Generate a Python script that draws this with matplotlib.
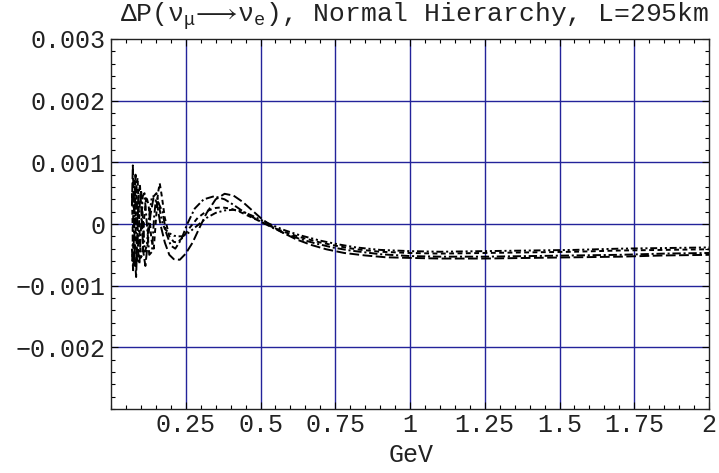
import matplotlib
matplotlib.use("Agg")
import matplotlib.pyplot as plt
from matplotlib.ticker import MultipleLocator, FixedLocator

# energies (GeV) and Delta P values (units of 1e-3)
e_a = [0.070, 0.073, 0.077, 0.080, 0.084, 0.088, 0.092, 0.097, 0.102, 0.108, 0.115, 0.123,
       0.132, 0.142, 0.153, 0.165, 0.18, 0.195, 0.21, 0.23, 0.25, 0.273, 0.297, 0.32, 0.35,
       0.38, 0.41, 0.44, 0.47, 0.50, 0.53, 0.57, 0.62, 0.67, 0.72, 0.78, 0.85, 0.92,
       1.0, 1.1, 1.25, 1.4, 1.55, 1.7, 1.85, 2.0]
p_a = [0.3, 0.95, 0.2, -0.55, -0.86, -0.2, 0.5, 0.62, 0.2, -0.45, -0.68, -0.3,
       0.15, 0.42, 0.35, 0.0, -0.3, -0.5, -0.57, -0.58, -0.48, -0.3, -0.05, 0.18, 0.4,
       0.49, 0.46, 0.36, 0.23, 0.10, -0.01, -0.13, -0.25, -0.34, -0.41, -0.47, -0.51, -0.54,
       -0.55, -0.56, -0.56, -0.55, -0.54, -0.53, -0.51, -0.50]

e_b = [0.070, 0.074, 0.078, 0.082, 0.086, 0.090, 0.095, 0.100, 0.106, 0.112, 0.120, 0.128,
       0.137, 0.144, 0.150, 0.158, 0.172, 0.185, 0.20, 0.215, 0.235, 0.255, 0.28, 0.31, 0.345,
       0.38, 0.41, 0.44, 0.47, 0.50, 0.54, 0.58, 0.63, 0.68, 0.74, 0.80, 0.90,
       1.0, 1.1, 1.25, 1.4, 1.55, 1.7, 1.85, 2.0]
p_b = [-0.4, -0.75, 0.1, 0.8, 0.5, -0.4, -0.65, -0.1, 0.45, 0.5, 0.0, -0.5,
       -0.45, 0.1, 0.4, 0.35, 0.2, -0.15, -0.35, -0.40, -0.25, 0.0, 0.25, 0.40, 0.45,
       0.40, 0.31, 0.21, 0.12, 0.04, -0.06, -0.15, -0.24, -0.31, -0.38, -0.43, -0.49,
       -0.52, -0.53, -0.53, -0.52, -0.51, -0.50, -0.48, -0.47]

e_c = [0.070, 0.073, 0.077, 0.081, 0.085, 0.089, 0.094, 0.099, 0.105, 0.111, 0.118, 0.126,
       0.135, 0.143, 0.150, 0.157, 0.163, 0.170, 0.180, 0.195, 0.21, 0.222, 0.24, 0.26, 0.29,
       0.32, 0.35, 0.37, 0.40, 0.43, 0.46, 0.50, 0.54, 0.58, 0.63, 0.70, 0.76, 0.82, 0.90,
       1.0, 1.1, 1.25, 1.4, 1.55, 1.7, 1.85, 2.0]
p_c = [0.5, -0.2, -0.7, -0.3, 0.6, 0.75, 0.1, -0.55, -0.5, 0.1, 0.45, 0.3,
       -0.25, -0.4, 0.05, 0.5, 0.66, 0.45, 0.1, -0.2, -0.29, -0.30, -0.22, -0.08, 0.1,
       0.21, 0.26, 0.27, 0.25, 0.2, 0.13, 0.04, -0.05, -0.13, -0.21, -0.3, -0.36, -0.41, -0.45,
       -0.47, -0.48, -0.47, -0.46, -0.45, -0.43, -0.42, -0.41]

e_d = [0.071, 0.075, 0.079, 0.083, 0.087, 0.091, 0.096, 0.101, 0.107, 0.113, 0.120, 0.128,
       0.137, 0.143, 0.152, 0.160, 0.170, 0.18, 0.195, 0.21, 0.225, 0.24, 0.26, 0.29, 0.32,
       0.35, 0.38, 0.41, 0.44, 0.47, 0.50, 0.54, 0.58, 0.63, 0.70, 0.76, 0.82, 0.90,
       1.0, 1.1, 1.25, 1.4, 1.55, 1.7, 1.85, 2.0]
p_d = [-0.6, 0.3, 0.7, 0.1, -0.6, -0.5, 0.3, 0.55, 0.05, -0.45, -0.35, 0.15,
       0.45, 0.45, 0.5, 0.3, 0.05, -0.08, -0.15, -0.19, -0.2, -0.2, -0.14, -0.02, 0.1,
       0.18, 0.22, 0.23, 0.2, 0.14, 0.07, -0.02, -0.1, -0.18, -0.27, -0.33, -0.38, -0.42,
       -0.44, -0.45, -0.44, -0.43, -0.42, -0.40, -0.39, -0.38]

x_ticks = [0.25, 0.5, 0.75, 1, 1.25, 1.5, 1.75, 2]
x_labels = ["0.25", "0.5", "0.75", "1", "1.25", "1.5", "1.75", "2"]
y_ticks = [-0.002, -0.001, 0, 0.001, 0.002, 0.003]
y_labels = ["\u22120.002", "\u22120.001", "0", "0.001", "0.002", "0.003"]

plt.rcParams['font.family'] = ['Liberation Mono', 'DejaVu Sans Mono', 'DejaVu Sans']
plt.rcParams['mathtext.fontset'] = 'custom'
plt.rcParams['mathtext.rm'] = 'Liberation Mono'
plt.rcParams['mathtext.it'] = 'Liberation Mono'
plt.rcParams['lines.scale_dashes'] = False

fig = plt.figure(figsize=(7.19, 4.73), dpi=100)
ax = fig.add_axes([111 / 719, 1 - 409 / 473, 598 / 719, 370 / 473])

grid_col = '#23239a'
for gx in x_ticks[:-1]:
    ax.axvline(gx, color=grid_col, lw=1.0, zorder=1)
for gy in [-0.002, -0.001, 0, 0.001, 0.002]:
    ax.axhline(gy, color=grid_col, lw=1.0, zorder=1)

styles = [(0, (7, 2.5)), (0, (6, 2, 1.5, 2)), (0, (3.5, 2.5)), (0, (5, 2, 1.5, 2, 1.5, 2))]
for (e, p), ls in zip([(e_a, p_a), (e_b, p_b), (e_c, p_c), (e_d, p_d)], styles):
    ax.plot(e, [v * 1e-3 for v in p], color='black', lw=1.4, linestyle=ls, zorder=3)

ax.set_xlim(0, 2)
ax.set_ylim(-0.003, 0.003)
ax.xaxis.set_major_locator(FixedLocator(x_ticks))
ax.set_xticklabels(x_labels)
ax.xaxis.set_minor_locator(MultipleLocator(0.05))
ax.yaxis.set_major_locator(FixedLocator(y_ticks))
ax.set_yticklabels(y_labels)
ax.yaxis.set_minor_locator(MultipleLocator(0.0002))

ax.tick_params(which='both', direction='in', top=True, right=True, width=0.8, colors='black',
               labelsize=18, labelcolor='#222222')
ax.tick_params(which='major', length=5)
ax.tick_params(which='minor', length=3)
ax.tick_params(axis='x', pad=3)
ax.tick_params(axis='y', pad=4)
for s in ax.spines.values():
    s.set_linewidth(1.0)
    s.set_color('#222222')

fig.text(411 / 719, 1 - 455 / 473, "GeV", ha='center', va='center', fontsize=18, color='#222222')
fig.text(709 / 719, 1 - 22 / 473,
         r"ΔP($\nu_{\mu}\!\longrightarrow\!\nu_{\mathrm{e}}$), Normal Hierarchy, L=295km",
         ha='right', va='baseline', fontsize=19, color='#222222')

fig.savefig("out.png", dpi=100)
